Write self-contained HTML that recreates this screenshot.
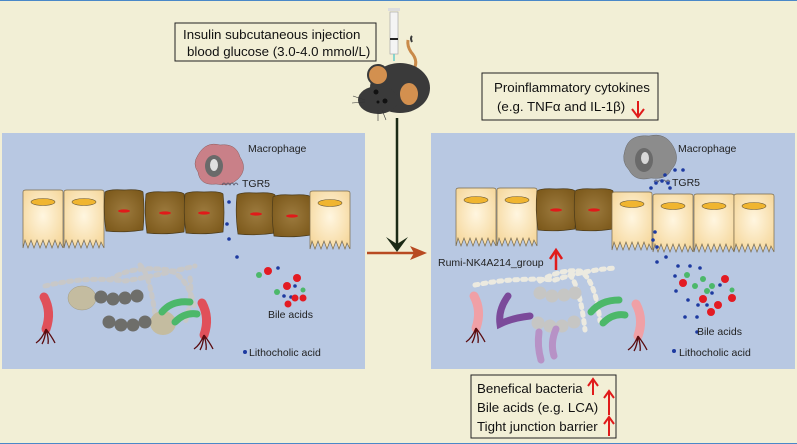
<!DOCTYPE html>
<html><head><meta charset="utf-8"><style>
html,body{margin:0;padding:0;background:#f2efd6;}
svg{display:block;font-family:"Liberation Sans",sans-serif;}
</style></head><body>
<svg width="797" height="444" viewBox="0 0 797 444">
<defs>
<radialGradient id="yc" cx="50%" cy="45%" r="60%"><stop offset="0" stop-color="#fff6e0"/><stop offset="1" stop-color="#f6d9a0"/></radialGradient>
<radialGradient id="bc" cx="50%" cy="50%" r="60%"><stop offset="0" stop-color="#9c7a3e"/><stop offset="1" stop-color="#7d5a1c"/></radialGradient>
<g id="ycell"><path d="M0,2 Q0,0 3,0 L37,0 Q40,0 40,2 L40,58 L37,52 L35,58 L32,50 L29,58 L26,50 L23,58 L20,50 L17,58 L14,50 L11,58 L8,50 L5,58 L2,50 L0,58 Z" fill="url(#yc)" stroke="#7a6a4a" stroke-width="0.7"/><ellipse cx="20" cy="12" rx="12" ry="3.5" fill="#f0b530" stroke="#6a5a3a" stroke-width="0.6"/></g>
<g id="bcell"><path d="M1,2 Q5,-1 20,0 Q36,-1 39,2 Q41,20 39,40 Q20,43 2,41 Q-1,20 1,2Z" fill="url(#bc)" stroke="#4a3a1a" stroke-width="0.7"/><ellipse cx="20" cy="21" rx="6" ry="1.6" fill="#e01a1a"/></g>
<g id="bact"><path d="M0,0 q8,15 2,32" stroke="#e0505a" stroke-width="9" fill="none" stroke-linecap="round"/><path d="M2,32 q-4,10 -10,14 M2,32 q-1,10 -4,15 M2,32 q3,10 2,15 M2,32 q6,8 9,14" stroke="#5a0c10" stroke-width="1.3" fill="none"/></g>
</defs>
<rect width="797" height="444" fill="#f2efd6"/>
<line x1="0" y1="0.5" x2="797" y2="0.5" stroke="#4a88c8" stroke-width="1"/>
<line x1="0" y1="443.5" x2="797" y2="443.5" stroke="#4a88c8" stroke-width="1"/>
<rect x="2" y="133" width="363" height="236" fill="#b8c8e2"/>
<rect x="431" y="133" width="364" height="236" fill="#b8c8e2"/>
<!-- top box -->
<rect x="175" y="23" width="201" height="38" fill="#f2efd6" stroke="#222" stroke-width="1"/>
<text x="183" y="39" font-size="13.3" fill="#111">Insulin  subcutaneous injection</text>
<text x="187" y="56" font-size="13.3" fill="#111">blood glucose (3.0-4.0 mmol/L)</text>
<!-- syringe -->
<rect x="390" y="12" width="8" height="42" fill="#f4f4f4" stroke="#aaa" stroke-width="0.7"/>
<rect x="388" y="8" width="12" height="3" fill="#ddd"/>
<rect x="390" y="38" width="8" height="2" fill="#222"/>
<line x1="394" y1="54" x2="394" y2="61" stroke="#6cc" stroke-width="1.5"/>
<!-- mouse -->
<path d="M412,72 q8,-10 -1,-20 q-4,-6 -3,-12" stroke="#c98a4a" stroke-width="3" fill="none"/>
<path d="M412,42 q-2,-4 0,-6" stroke="#3a3a3a" stroke-width="2" fill="none"/>
<ellipse cx="400" cy="88" rx="30" ry="25" fill="#3a3a3a"/>
<ellipse cx="378" cy="100" rx="20" ry="14" fill="#3a3a3a"/>
<ellipse cx="378" cy="75" rx="10" ry="10" fill="#d3904f" stroke="#3a3a3a" stroke-width="2"/>
<ellipse cx="409" cy="94" rx="10" ry="12" fill="#d3904f" stroke="#3a3a3a" stroke-width="2"/>
<circle cx="376" cy="92" r="2.5" fill="#111"/><circle cx="385" cy="101" r="2.5" fill="#111"/><circle cx="378" cy="102" r="1.5" fill="#111"/>
<path d="M365,100 l-12,-4 M365,102 l-13,1 M382,110 l4,10 M378,110 l0,11" stroke="#333" stroke-width="0.6"/>
<!-- right top box -->
<rect x="482" y="73" width="176" height="47" fill="#f2efd6" stroke="#222" stroke-width="1"/>
<text x="494" y="92" font-size="13.3" fill="#111">Proinflammatory cytokines</text>
<text x="497" y="111" font-size="13.3" fill="#111">(e.g. TNFα and IL-1β)</text>
<line x1="638" y1="101" x2="638" y2="115" stroke="#e01b1b" stroke-width="2"/>
<path d="M632,109 L638,117 L644,109" stroke="#e01b1b" stroke-width="2" fill="none"/>
<!-- arrows -->
<line x1="397" y1="118" x2="397" y2="246" stroke="#1b2a16" stroke-width="2.5"/>
<path d="M386,237 L397,252 L408,237 L397,244 Z" fill="#1b2a16"/>
<line x1="367" y1="253" x2="418" y2="253" stroke="#b84a22" stroke-width="2.5"/>
<path d="M410,246 L427,253 L410,260 L414,253Z" fill="#b84a22"/>
<!-- LEFT panel -->
<path d="M198,155 q8,-14 22,-10 q16,-2 20,12 q8,12 -2,22 q-8,8 -22,5 q-16,2 -18,-12 q-6,-8 0,-17z" fill="#c98088" stroke="#8a5a5a" stroke-width="0.5"/>
<ellipse cx="214" cy="166" rx="9" ry="11" fill="#6a6a6a"/><ellipse cx="214" cy="165" rx="4" ry="6" fill="#e0e0e0"/>
<path d="M222,185 q2,-4 4,0 q2,-4 4,0 q2,-4 4,0 q2,-4 4,0" stroke="#556" fill="none" stroke-width="0.8"/>
<text x="248" y="152" font-size="10.5" fill="#222">Macrophage</text>
<text x="242" y="187" font-size="10.5" fill="#222">TGR5</text>
<use href="#ycell" x="23" y="190"/><use href="#ycell" x="64" y="190"/>
<use href="#bcell" x="104" y="190"/><use href="#bcell" x="145" y="192"/><use href="#bcell" x="184" y="192"/>
<use href="#bcell" x="236" y="193"/><use href="#bcell" x="272" y="195"/>
<use href="#ycell" x="310" y="191"/>
<g fill="#1d3aa0"><circle cx="229" cy="202" r="1.8"/><circle cx="227" cy="224" r="1.8"/><circle cx="229" cy="239" r="1.8"/><circle cx="237" cy="257" r="1.8"/><circle cx="278" cy="268" r="1.8"/><circle cx="295" cy="286" r="1.8"/><circle cx="291" cy="297" r="1.8"/><circle cx="284" cy="296" r="1.8"/><circle cx="245" cy="352" r="2"/></g>
<g fill="#e31b23"><circle cx="268" cy="271" r="4"/><circle cx="297" cy="278" r="4"/><circle cx="287" cy="286" r="4"/><circle cx="295" cy="298" r="3.5"/><circle cx="303" cy="298" r="3.5"/><circle cx="288" cy="304" r="3.5"/></g>
<g fill="#4cb86a"><circle cx="259" cy="275" r="3"/><circle cx="277" cy="292" r="3"/><circle cx="303" cy="290" r="2.5"/></g>
<text x="268" y="318" font-size="10.5" fill="#222">Bile acids</text>
<text x="249" y="356" font-size="10.5" fill="#222">Lithocholic acid</text>
<g fill="none" stroke="#c8c8c8" stroke-width="5" stroke-linecap="round" stroke-dasharray="3,5">
<path d="M45,286 q40,-10 80,-5 q30,-5 70,-15"/>
<path d="M110,280 q20,-15 60,-10 q20,10 25,40 M140,265 q10,10 15,50 M190,278 q3,20 -5,45"/>
</g>
<ellipse cx="82" cy="298" rx="14" ry="12" fill="#c4bca0" stroke="#a09a80" stroke-width="0.5"/>
<ellipse cx="163" cy="323" rx="13" ry="12" fill="#c4bca0"/>
<g fill="#6e6e6a"><circle cx="101" cy="297" r="6.5"/><circle cx="113" cy="299" r="6.5"/><circle cx="125" cy="298" r="6.5"/><circle cx="137" cy="296" r="6.5"/>
<circle cx="109" cy="322" r="6.5"/><circle cx="121" cy="325" r="6.5"/><circle cx="133" cy="325" r="6.5"/><circle cx="145" cy="322" r="6.5"/></g>
<path d="M162,312 q10,-12 28,-10 M175,322 q10,-10 22,-8" stroke="#4cb86a" stroke-width="7" fill="none" stroke-linecap="round"/>
<use href="#bact" x="44" y="297"/><use href="#bact" x="202" y="303"/>
<!-- RIGHT panel -->
<path d="M625,150 q4,-16 24,-14 q16,-4 24,10 q8,14 -2,24 q-4,10 -20,8 q-16,4 -22,-8 q-8,-8 -4,-20z" fill="#8c8c8c" stroke="#666" stroke-width="0.5"/>
<ellipse cx="644" cy="160" rx="9" ry="12" fill="#6a6a6a"/><ellipse cx="645" cy="158" rx="4" ry="6" fill="#d8d8d8"/>
<path d="M654,182 q2,-4 4,0 q2,-4 4,0 q2,-4 4,0 q2,-4 4,0" stroke="#556" fill="none" stroke-width="0.8"/>
<text x="678" y="152" font-size="10.5" fill="#222">Macrophage</text>
<text x="672" y="186" font-size="10.5" fill="#222">TGR5</text>
<use href="#ycell" x="456" y="188"/><use href="#ycell" x="497" y="188"/>
<use href="#bcell" x="536" y="189"/><use href="#bcell" x="574" y="189"/>
<use href="#ycell" x="612" y="192"/><use href="#ycell" x="653" y="194"/><use href="#ycell" x="694" y="194"/><use href="#ycell" x="734" y="194"/>
<g fill="#1d3aa0"><circle cx="651" cy="188" r="1.8"/><circle cx="656" cy="183" r="1.8"/><circle cx="662" cy="181" r="1.8"/><circle cx="668" cy="183" r="1.8"/><circle cx="665" cy="175" r="1.8"/><circle cx="675" cy="170" r="1.8"/><circle cx="683" cy="170" r="1.8"/><circle cx="670" cy="188" r="1.8"/><circle cx="655" cy="232" r="1.8"/><circle cx="653" cy="240" r="1.8"/><circle cx="657" cy="247" r="1.8"/><circle cx="657" cy="262" r="1.8"/><circle cx="666" cy="257" r="1.8"/><circle cx="678" cy="266" r="1.8"/><circle cx="690" cy="266" r="1.8"/><circle cx="700" cy="268" r="1.8"/><circle cx="675" cy="276" r="1.8"/><circle cx="720" cy="285" r="1.8"/><circle cx="712" cy="293" r="1.8"/><circle cx="676" cy="291" r="1.8"/><circle cx="688" cy="300" r="1.8"/><circle cx="698" cy="305" r="1.8"/><circle cx="685" cy="317" r="1.8"/><circle cx="697" cy="317" r="1.8"/><circle cx="707" cy="305" r="1.8"/><circle cx="697" cy="332" r="1.8"/><circle cx="674" cy="351" r="2"/></g>
<g fill="#e31b23"><circle cx="683" cy="283" r="4"/><circle cx="725" cy="279" r="4"/><circle cx="703" cy="299" r="4"/><circle cx="732" cy="298" r="4"/><circle cx="718" cy="305" r="4"/><circle cx="711" cy="312" r="4"/></g>
<g fill="#4cb86a"><circle cx="687" cy="275" r="3"/><circle cx="703" cy="279" r="3"/><circle cx="695" cy="286" r="3"/><circle cx="712" cy="286" r="3"/><circle cx="707" cy="291" r="3"/><circle cx="732" cy="290" r="2.5"/></g>
<text x="697" y="335" font-size="10.5" fill="#222">Bile acids</text>
<text x="679" y="356" font-size="10.5" fill="#222">Lithocholic acid</text>
<text x="438" y="266" font-size="10.5" fill="#222">Rumi-NK4A214_group</text>
<line x1="556" y1="270" x2="556" y2="252" stroke="#e01b1b" stroke-width="2.5"/>
<path d="M550,259 L556,250 L562,259" stroke="#e01b1b" stroke-width="2.5" fill="none"/>
<g fill="none" stroke="#eceae0" stroke-width="5" stroke-linecap="round" stroke-dasharray="3,5">
<path d="M475,285 q40,-8 80,-5 q30,-10 60,-12 M540,281 q20,-12 40,-10 q15,8 20,50 M570,275 q10,12 15,55"/>
</g>
<g fill="#c6c6c4"><circle cx="540" cy="293" r="6.5"/><circle cx="552" cy="296" r="6.5"/><circle cx="564" cy="295" r="6.5"/><circle cx="575" cy="293" r="6.5"/>
<circle cx="538" cy="323" r="6.5"/><circle cx="550" cy="326" r="6.5"/><circle cx="562" cy="326" r="6.5"/><circle cx="574" cy="322" r="6.5"/></g>
<path d="M508,296 q-10,14 -8,28 q12,-6 30,-8" stroke="#7b4a9a" stroke-width="7" fill="none" stroke-linecap="round"/>
<path d="M539,332 q-2,14 2,28 M556,329 q-6,14 -2,27" stroke="#b792c6" stroke-width="7" fill="none" stroke-linecap="round"/>
<path d="M591,312 q10,-12 28,-12 M603,323 q10,-10 22,-8" stroke="#4cb86a" stroke-width="7" fill="none" stroke-linecap="round"/>
<g><path d="M474,296 q8,15 2,32" stroke="#f0a0a6" stroke-width="9" fill="none" stroke-linecap="round"/><path d="M476,328 q-4,10 -10,14 M476,328 q-1,10 -4,15 M476,328 q3,10 2,15 M476,328 q6,8 9,14" stroke="#5a0c10" stroke-width="1.3" fill="none"/></g>
<g><path d="M636,304 q8,15 2,32" stroke="#f0a0a6" stroke-width="9" fill="none" stroke-linecap="round"/><path d="M638,336 q-4,10 -10,14 M638,336 q-1,10 -4,15 M638,336 q3,10 2,15 M638,336 q6,8 9,14" stroke="#5a0c10" stroke-width="1.3" fill="none"/></g>
<!-- bottom box -->
<rect x="471" y="375" width="145" height="63" fill="#f2efd6" stroke="#222" stroke-width="1"/>
<text x="477" y="393" font-size="13.3" fill="#111">Benefical bacteria</text>
<text x="477" y="412" font-size="13.3" fill="#111">Bile acids (e.g. LCA)</text>
<text x="477" y="431" font-size="13.3" fill="#111">Tight junction barrier</text>
<g stroke="#e01b1b" stroke-width="2" fill="none">
<path d="M593,395 L593,380 M588,386 L593,379 L598,386"/>
<path d="M609,415 L609,392 M604,398 L609,391 L614,398"/>
<path d="M609,436 L609,417 M604,424 L609,417 L614,424"/>
</g>
</svg>
</body></html>
